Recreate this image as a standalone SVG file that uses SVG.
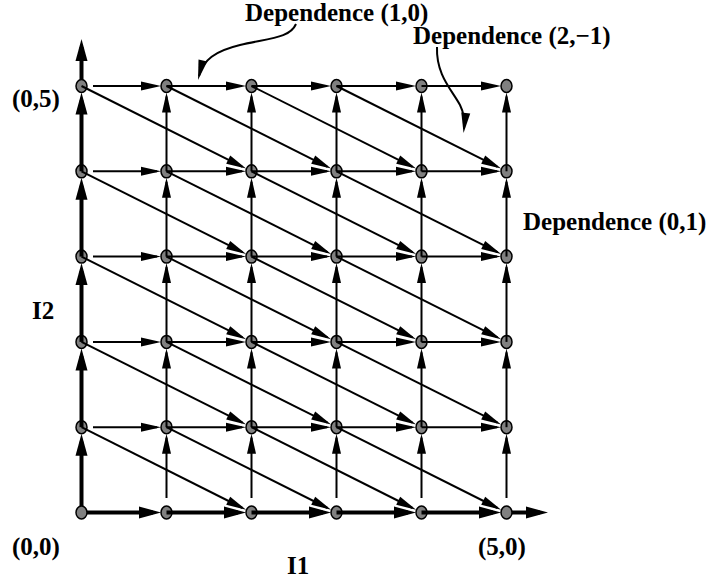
<svg xmlns="http://www.w3.org/2000/svg" width="707" height="580" viewBox="0 0 707 580">
<style>
.n{fill:#808080;stroke:#000;stroke-width:1.5}
.t{stroke:#000;stroke-width:2;fill:none;marker-end:url(#ah)}
.b{stroke:#000;stroke-width:4;fill:none;marker-end:url(#ahb)}
.c{stroke:#000;stroke-width:2;fill:none;marker-end:url(#ah)}
text{font-family:"Liberation Serif","Times New Roman",serif;font-weight:bold;font-size:25px;fill:#000}
</style>
<defs>
<marker id="ah" markerUnits="userSpaceOnUse" markerWidth="22" markerHeight="10" refX="16" refY="4.5" orient="auto" overflow="visible"><path d="M0,0 L20,4.5 L0,9 z" fill="#000"/></marker>
<marker id="ahb" markerUnits="userSpaceOnUse" markerWidth="24" markerHeight="13" refX="14" refY="6" orient="auto" overflow="visible"><path d="M0,0 L22,6 L0,12 z" fill="#000"/></marker>
</defs>
<rect width="707" height="580" fill="#fff"/>
<g id="nodes">
<g id="n00"><ellipse class="n" cx="81.5" cy="512.5" rx="5.5" ry="6.5"/></g>
<g id="n10"><ellipse class="n" cx="166.5" cy="512.5" rx="5.5" ry="6.5"/></g>
<g id="n20"><ellipse class="n" cx="251.5" cy="512.5" rx="5.5" ry="6.5"/></g>
<g id="n30"><ellipse class="n" cx="336.5" cy="512.5" rx="5.5" ry="6.5"/></g>
<g id="n40"><ellipse class="n" cx="421.5" cy="512.5" rx="5.5" ry="6.5"/></g>
<g id="n50"><ellipse class="n" cx="506.5" cy="512.5" rx="5.5" ry="6.5"/></g>
<g id="n01"><ellipse class="n" cx="81.5" cy="427.2" rx="5.5" ry="6.5"/></g>
<g id="n11"><ellipse class="n" cx="166.5" cy="427.2" rx="5.5" ry="6.5"/></g>
<g id="n21"><ellipse class="n" cx="251.5" cy="427.2" rx="5.5" ry="6.5"/></g>
<g id="n31"><ellipse class="n" cx="336.5" cy="427.2" rx="5.5" ry="6.5"/></g>
<g id="n41"><ellipse class="n" cx="421.5" cy="427.2" rx="5.5" ry="6.5"/></g>
<g id="n51"><ellipse class="n" cx="506.5" cy="427.2" rx="5.5" ry="6.5"/></g>
<g id="n02"><ellipse class="n" cx="81.5" cy="341.9" rx="5.5" ry="6.5"/></g>
<g id="n12"><ellipse class="n" cx="166.5" cy="341.9" rx="5.5" ry="6.5"/></g>
<g id="n22"><ellipse class="n" cx="251.5" cy="341.9" rx="5.5" ry="6.5"/></g>
<g id="n32"><ellipse class="n" cx="336.5" cy="341.9" rx="5.5" ry="6.5"/></g>
<g id="n42"><ellipse class="n" cx="421.5" cy="341.9" rx="5.5" ry="6.5"/></g>
<g id="n52"><ellipse class="n" cx="506.5" cy="341.9" rx="5.5" ry="6.5"/></g>
<g id="n03"><ellipse class="n" cx="81.5" cy="256.6" rx="5.5" ry="6.5"/></g>
<g id="n13"><ellipse class="n" cx="166.5" cy="256.6" rx="5.5" ry="6.5"/></g>
<g id="n23"><ellipse class="n" cx="251.5" cy="256.6" rx="5.5" ry="6.5"/></g>
<g id="n33"><ellipse class="n" cx="336.5" cy="256.6" rx="5.5" ry="6.5"/></g>
<g id="n43"><ellipse class="n" cx="421.5" cy="256.6" rx="5.5" ry="6.5"/></g>
<g id="n53"><ellipse class="n" cx="506.5" cy="256.6" rx="5.5" ry="6.5"/></g>
<g id="n04"><ellipse class="n" cx="81.5" cy="171.3" rx="5.5" ry="6.5"/></g>
<g id="n14"><ellipse class="n" cx="166.5" cy="171.3" rx="5.5" ry="6.5"/></g>
<g id="n24"><ellipse class="n" cx="251.5" cy="171.3" rx="5.5" ry="6.5"/></g>
<g id="n34"><ellipse class="n" cx="336.5" cy="171.3" rx="5.5" ry="6.5"/></g>
<g id="n44"><ellipse class="n" cx="421.5" cy="171.3" rx="5.5" ry="6.5"/></g>
<g id="n54"><ellipse class="n" cx="506.5" cy="171.3" rx="5.5" ry="6.5"/></g>
<g id="n05"><ellipse class="n" cx="81.5" cy="86" rx="5.5" ry="6.5"/></g>
<g id="n15"><ellipse class="n" cx="166.5" cy="86" rx="5.5" ry="6.5"/></g>
<g id="n25"><ellipse class="n" cx="251.5" cy="86" rx="5.5" ry="6.5"/></g>
<g id="n35"><ellipse class="n" cx="336.5" cy="86" rx="5.5" ry="6.5"/></g>
<g id="n45"><ellipse class="n" cx="421.5" cy="86" rx="5.5" ry="6.5"/></g>
<g id="n55"><ellipse class="n" cx="506.5" cy="86" rx="5.5" ry="6.5"/></g>
</g>
<g id="connectors">
<path class="b" d="M87,512.5 L153,512.5"/>
<path class="b" d="M166.5,512.5 L238,512.5"/>
<path class="b" d="M251.5,512.5 L323,512.5"/>
<path class="b" d="M336.5,512.5 L408,512.5"/>
<path class="b" d="M421.5,512.5 L493,512.5"/>
<path class="b" d="M512,512.5 L540,512.5"/>
<path class="b" d="M81.5,506 L81.5,441.7"/>
<path class="b" d="M81.5,427.2 L81.5,356.4"/>
<path class="b" d="M81.5,341.9 L81.5,271.1"/>
<path class="b" d="M81.5,256.6 L81.5,185.8"/>
<path class="b" d="M81.5,171.3 L81.5,100.5"/>
<path class="b" d="M81.5,79.5 L81.5,47"/>
<path class="t" d="M93,427.2 L157,427.2"/>
<path class="t" d="M166.5,427.2 L242,427.2"/>
<path class="t" d="M251.5,427.2 L327,427.2"/>
<path class="t" d="M336.5,427.2 L412,427.2"/>
<path class="t" d="M421.5,427.2 L497,427.2"/>
<path class="t" d="M93,341.9 L157,341.9"/>
<path class="t" d="M166.5,341.9 L242,341.9"/>
<path class="t" d="M251.5,341.9 L327,341.9"/>
<path class="t" d="M336.5,341.9 L412,341.9"/>
<path class="t" d="M421.5,341.9 L497,341.9"/>
<path class="t" d="M93,256.6 L157,256.6"/>
<path class="t" d="M166.5,256.6 L242,256.6"/>
<path class="t" d="M251.5,256.6 L327,256.6"/>
<path class="t" d="M336.5,256.6 L412,256.6"/>
<path class="t" d="M421.5,256.6 L497,256.6"/>
<path class="t" d="M93,171.3 L157,171.3"/>
<path class="t" d="M166.5,171.3 L242,171.3"/>
<path class="t" d="M251.5,171.3 L327,171.3"/>
<path class="t" d="M336.5,171.3 L412,171.3"/>
<path class="t" d="M421.5,171.3 L497,171.3"/>
<path class="t" d="M93,86 L157,86"/>
<path class="t" d="M166.5,86 L242,86"/>
<path class="t" d="M251.5,86 L327,86"/>
<path class="t" d="M336.5,86 L412,86"/>
<path class="t" d="M421.5,86 L497,86"/>
<path class="t" d="M166.5,498 L166.5,437.7"/>
<path class="t" d="M166.5,427.2 L166.5,352.4"/>
<path class="t" d="M166.5,341.9 L166.5,267.1"/>
<path class="t" d="M166.5,256.6 L166.5,181.8"/>
<path class="t" d="M166.5,171.3 L166.5,96.5"/>
<path class="t" d="M251.5,498 L251.5,437.7"/>
<path class="t" d="M251.5,427.2 L251.5,352.4"/>
<path class="t" d="M251.5,341.9 L251.5,267.1"/>
<path class="t" d="M251.5,256.6 L251.5,181.8"/>
<path class="t" d="M251.5,171.3 L251.5,96.5"/>
<path class="t" d="M336.5,498 L336.5,437.7"/>
<path class="t" d="M336.5,427.2 L336.5,352.4"/>
<path class="t" d="M336.5,341.9 L336.5,267.1"/>
<path class="t" d="M336.5,256.6 L336.5,181.8"/>
<path class="t" d="M336.5,171.3 L336.5,96.5"/>
<path class="t" d="M421.5,498 L421.5,437.7"/>
<path class="t" d="M421.5,427.2 L421.5,352.4"/>
<path class="t" d="M421.5,341.9 L421.5,267.1"/>
<path class="t" d="M421.5,256.6 L421.5,181.8"/>
<path class="t" d="M421.5,171.3 L421.5,96.5"/>
<path class="t" d="M506.5,498 L506.5,437.7"/>
<path class="t" d="M506.5,427.2 L506.5,352.4"/>
<path class="t" d="M506.5,341.9 L506.5,267.1"/>
<path class="t" d="M506.5,256.6 L506.5,181.8"/>
<path class="t" d="M506.5,171.3 L506.5,96.5"/>
<path class="t" d="M81.5,427.2 L242.5,508"/>
<path class="t" d="M166.5,427.2 L327.5,508"/>
<path class="t" d="M251.5,427.2 L412.5,508"/>
<path class="t" d="M336.5,427.2 L497.5,508"/>
<path class="t" d="M81.5,341.9 L242.5,422.7"/>
<path class="t" d="M166.5,341.9 L327.5,422.7"/>
<path class="t" d="M251.5,341.9 L412.5,422.7"/>
<path class="t" d="M336.5,341.9 L497.5,422.7"/>
<path class="t" d="M81.5,256.6 L242.5,337.4"/>
<path class="t" d="M166.5,256.6 L327.5,337.4"/>
<path class="t" d="M251.5,256.6 L412.5,337.4"/>
<path class="t" d="M336.5,256.6 L497.5,337.4"/>
<path class="t" d="M81.5,171.3 L242.5,252.1"/>
<path class="t" d="M166.5,171.3 L327.5,252.1"/>
<path class="t" d="M251.5,171.3 L412.5,252.1"/>
<path class="t" d="M336.5,171.3 L497.5,252.1"/>
<path class="t" d="M81.5,86 L242.5,166.8"/>
<path class="t" d="M166.5,86 L327.5,166.8"/>
<path class="t" d="M251.5,86 L412.5,166.8"/>
<path class="t" d="M336.5,86 L497.5,166.8"/>
<path class="c" d="M296,24 C290,38 270,38 240,45 C215,51 203,60 199,76"/>
<path class="c" d="M437,47 C436,75 452,90 460,105 C464,113 465,120 464,129"/>
</g>
<g id="labels">
<text x="245" y="21">Dependence (1,0)</text>
<text x="413" y="44">Dependence (2,−1)</text>
<text x="523" y="230">Dependence (0,1)</text>
<text x="12" y="107">(0,5)</text>
<text x="32" y="319">I2</text>
<text x="12" y="555">(0,0)</text>
<text x="478" y="555">(5,0)</text>
<text x="287" y="574">I1</text>
</g>
</svg>
